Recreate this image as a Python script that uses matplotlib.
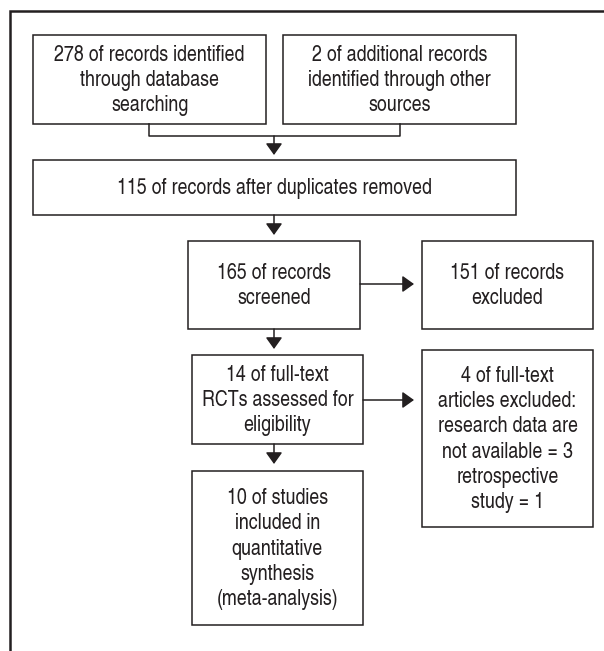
import matplotlib
matplotlib.use("Agg")
import matplotlib.pyplot as plt
from matplotlib.patches import Rectangle

plt.rcParams['font.family'] = ['TeX Gyre Heros Cn', 'Liberation Sans', 'DejaVu Sans']

# box texts
labels = {
    "db": "278 of records identified\nthrough database\nsearching",
    "other": "2 of additional records\nidentified through other\nsources",
    "dedup": "115 of records after duplicates removed",
    "screen": "165 of records\nscreened",
    "excl": "151 of records\nexcluded",
    "full": "14 of full-text\nRCTs assessed for\neligibility",
    "fullexcl": "4 of full-text\narticles excluded:\nresearch data are\nnot available = 3\nretrospective\nstudy = 1",
    "incl": "10 of studies\nincluded in\nquantitative\nsynthesis\n(meta-analysis)",
}

# layout in pixels: x0, y0, x1, y1
boxes = {
    "db": (33, 35, 266, 124),
    "other": (283, 35, 516, 124),
    "dedup": (33, 160, 516, 215),
    "screen": (188, 241, 360, 329),
    "excl": (422, 241, 593, 329),
    "full": (192, 355, 363, 444),
    "fullexcl": (422, 350, 593, 527),
    "incl": (192, 471, 363, 625),
}

ink = "#231f20"
fig = plt.figure(figsize=(6.04, 6.51), dpi=100)
ax = fig.add_axes([0, 0, 1, 1])
ax.set_xlim(0, 604)
ax.set_ylim(651, 0)
ax.axis("off")

# outer frame (cropped at right / bottom)
ax.plot([10, 10, 610], [660, 11, 11], color=ink, lw=1.8, solid_joinstyle="miter")

for k, (x0, y0, x1, y1) in boxes.items():
    ax.add_patch(Rectangle((x0, y0), x1 - x0, y1 - y0, fill=False,
                           edgecolor=ink, lw=1.1))
    ax.text((x0 + x1) / 2, (y0 + y1) / 2 + 1, labels[k], ha="center", va="center",
            fontsize=15.7, color=ink, linespacing=1.26)


def arrow(x0, y0, x1, y1):
    ax.annotate("", xy=(x1, y1), xytext=(x0, y0),
                arrowprops=dict(arrowstyle="-|>,head_length=0.7,head_width=0.5",
                                color=ink, lw=1.1, shrinkA=0, shrinkB=0))


# merge connector
ax.plot([149, 149, 400, 400], [124, 136, 136, 124], color=ink, lw=1.1)
arrow(274, 136, 274, 155)
arrow(274, 215, 274, 235)
arrow(274, 329, 274, 349)
arrow(274, 444, 274, 464)
arrow(360, 284, 414, 284)
arrow(363, 400, 414, 400)

fig.savefig("out.png", dpi=100)
